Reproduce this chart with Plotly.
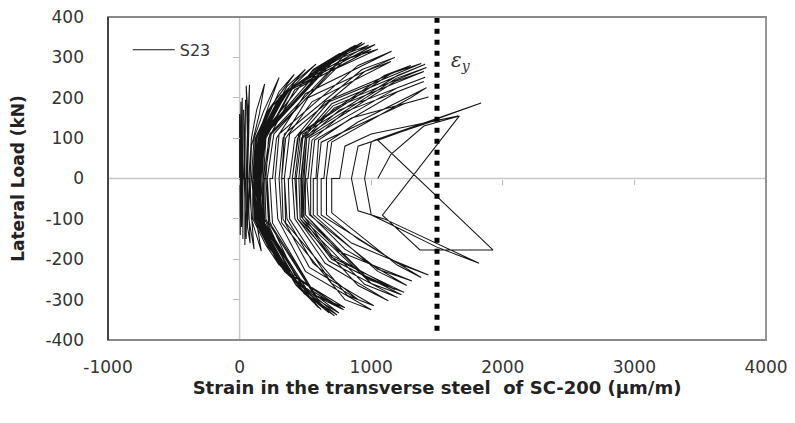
import plotly.graph_objects as go

# Hysteresis path of specimen S23: strain (µm/m) and lateral load (kN).
# Group A: early cycles near zero strain and the dense envelope band
strain_a = [0, 0, 5, 5, 10,
            5, 10, 15, 15, 20,
            15, 20, 20, 25, 25,
            30, 45, 40, 40, 45,
            35, 30, 35, 50, 55,
            50, 60, 75, 70, 60, 70, 110, 90, 70,
            55, 65, 50, 60, 60, 60, 80, 70, 75,
            70, 90, 130, 190, 150, 90, 80, 90, 165, 120, 90,
            90, 110, 180, 300, 220, 120, 100, 100, 200, 300, 200, 110, 100,
            100, 120, 220, 415, 300, 140, 110, 110, 220, 400, 250, 120, 110,
            105, 125, 235, 500, 360, 150, 115, 115, 235, 450, 290, 130, 115,
            110, 130, 250, 580, 420, 160, 120, 120, 250, 500, 330, 140, 120,
            120, 140, 300, 730, 550, 170, 130, 130, 300, 600, 420, 160, 130,
            125, 145, 310, 760, 560, 175, 135, 135, 305, 620, 430, 165, 135,
            130, 150, 330, 850, 650, 180, 140, 140, 320, 680, 480, 170, 140,
            135, 155, 340, 880, 660, 185, 145, 145, 330, 700, 490, 175, 145,
            140, 160, 350, 930, 700, 190, 150, 150, 340, 720, 520, 180, 150,
            145, 165, 360, 950, 720, 195, 155, 155, 350, 740, 530, 185, 160,
            150, 170, 370, 980, 740, 200, 160, 160, 360, 755, 540, 190, 170,
            170, 190, 390, 1030, 780, 230, 180, 190, 380, 790, 570, 220, 200,
            180, 200, 400, 1050, 800, 240, 190, 200, 390, 800, 580, 230, 210,
            200, 220, 420, 1000, 760, 260, 210, 220, 420, 760, 560, 250, 230]
load_a = [0, 160, 0, -140, 0,
          0, 190, 0, -120, 0,
          0, 200, 0, -150, 0,
          0, 195, 0, -165, 0,
          0, 170, 0, -150, 0,
          0, 120, 232, 120, 0, -100, -175, -90, 0,
          0, 150, 230, 100, 0, -120, -160, -80, 0,
          0, 100, 170, 234, 160, 80, 0, -100, -180, -90, 0,
          0, 100, 165, 250, 180, 90, 0, -100, -165, -214, -150, -80, 0,
          0, 100, 170, 258, 215, 100, 0, -100, -170, -245, -170, -90, 0,
          0, 100, 175, 270, 228, 105, 0, -100, -175, -262, -195, -95, 0,
          0, 100, 180, 283, 240, 110, 0, -100, -180, -285, -220, -100, 0,
          0, 100, 200, 303, 265, 110, 0, -100, -210, -320, -260, -110, 0,
          0, 100, 205, 310, 270, 110, 0, -100, -215, -325, -265, -110, 0,
          0, 100, 210, 325, 285, 110, 0, -100, -220, -333, -280, -110, 0,
          0, 100, 212, 330, 290, 110, 0, -100, -225, -335, -285, -110, 0,
          0, 100, 215, 337, 295, 110, 0, -100, -230, -340, -290, -110, 0,
          0, 100, 218, 335, 298, 110, 0, -100, -232, -338, -292, -110, 0,
          0, 100, 220, 330, 300, 110, 0, -100, -235, -333, -290, -110, 0,
          0, 100, 220, 332, 300, 110, 0, -100, -235, -325, -290, -110, 0,
          0, 100, 222, 320, 295, 110, 0, -100, -238, -320, -290, -110, 0,
          0, 100, 220, 320, 290, 110, 0, -100, -240, -320, -280, -110, 0]

# Group B: wider cycles with knees between 250 and 700 µm/m
strain_b = [250, 280, 500, 1155, 900, 300, 270, 290, 500, 1000, 800, 320, 300,
            300, 330, 520, 1180, 930, 340, 320, 330, 530, 1020, 820, 350, 340,
            320, 350, 550, 1150, 950, 380, 340, 360, 560, 900, 700, 380, 370,
            380, 420, 650, 1300, 1100, 450, 400, 420, 650, 1130, 900, 440, 430,
            400, 440, 680, 1380, 1150, 460, 420, 440, 680, 1200, 950, 460, 450,
            430, 470, 700, 1410, 1200, 480, 450, 460, 700, 1230, 1000, 480, 470,
            450, 480, 710, 1420, 1190, 500, 465, 470, 700, 1250, 980, 490, 480,
            470, 500, 720, 1400, 1180, 510, 480, 480, 700, 1180, 950, 500, 490,
            490, 510, 760, 1410, 1200, 530, 500, 500, 750, 1310, 1050, 530, 510,
            520, 550, 800, 1400, 1200, 570, 540, 540, 800, 1270, 1050, 560, 560,
            580, 600, 850, 1435, 1250, 620, 590, 590, 850, 1435, 1200, 620, 620,
            640, 670, 900, 1420, 1300, 700, 660, 660, 900, 1380, 1200, 700, 700]
load_b = [0, 100, 210, 315, 280, 110, 0, -100, -230, -325, -300, -110, 0,
          0, 100, 200, 300, 270, 110, 0, -100, -220, -315, -290, -110, 0,
          0, 100, 190, 290, 265, 110, 0, -100, -210, -300, -260, -100, 0,
          0, 100, 190, 280, 255, 110, 0, -100, -210, -303, -265, -100, 0,
          0, 100, 190, 285, 260, 110, 0, -100, -205, -295, -262, -100, 0,
          0, 100, 185, 283, 255, 110, 0, -100, -200, -288, -260, -100, 0,
          0, 100, 180, 275, 248, 105, 0, -95, -195, -282, -250, -95, 0,
          0, 100, 175, 265, 240, 100, 0, -90, -190, -275, -240, -90, 0,
          0, 100, 170, 251, 225, 100, 0, -90, -180, -254, -225, -90, 0,
          0, 95, 165, 240, 215, 95, 0, -90, -175, -265, -230, -90, 0,
          0, 95, 150, 202, 185, 90, 0, -90, -160, -239, -210, -90, 0,
          0, 90, 140, 225, 200, 90, 0, -90, -150, -245, -215, -85, 0]

# Group C: last cycles beyond yield
strain_c = [760, 800, 1000, 1660, 1450, 900, 850, 900, 1100, 1820, 1500, 1000, 950,
            1000, 1025, 1835, 1050, 1925, 1370, 1085, 1670, 1400, 1150, 1050]
load_c = [0, 80, 110, 155, 140, 80, 0, -80, -100, -210, -170, -90, 0,
          90, 95, 187, 95, -177, -177, -91, 155, 130, 60, 0]

x_ticks = [-1000, 0, 1000, 2000, 3000, 4000]
x_tick_text = ["-1000", "0", "1000", "2000", "3000", "4000"]
y_ticks = [-400, -300, -200, -100, 0, 100, 200, 300, 400]
y_tick_text = ["-400", "-300", "-200", "-100", "0", "100", "200", "300", "400"]
yield_strain = 1500
series_name = "S23"

strain = strain_a + strain_b + strain_c
load = load_a + load_b + load_c

FONT = "DejaVu Sans"
fig = go.Figure()
fig.add_trace(go.Scatter(x=strain, y=load, mode="lines", name=series_name,
                         line=dict(color="#151515", width=1.05)))
fig.add_trace(go.Scatter(x=[yield_strain, yield_strain], y=[398, -382], mode="lines",
                         showlegend=False, hoverinfo="skip",
                         line=dict(color="black", width=5, dash="5px,6px")))

# the page body adds an 8 px offset, so the figure is made 8 px smaller
fig.update_layout(
    width=787, height=415,
    margin=dict(l=100, r=29, t=9, b=83),
    paper_bgcolor="white", plot_bgcolor="white",
    font=dict(family=FONT, size=17, color="#333"),
    showlegend=True,
    legend=dict(x=0.03, y=0.898, xanchor="left", yanchor="middle", itemwidth=42,
                bgcolor="rgba(0,0,0,0)", font=dict(size=16, color="#333")),
    xaxis=dict(range=[-1000, 4000], tickvals=x_ticks, ticktext=x_tick_text,
               showgrid=False, zeroline=False, automargin=False,
               showline=False, ticks="", ticklabelstandoff=15, ticklabeloverflow="allow",
               tickfont=dict(size=17, color="#333"),
               title=dict(text="<b>Strain in the transverse steel  of SC-200 (µm/m)</b>",
                          font=dict(size=18, color="#222"), standoff=5)),
    yaxis=dict(range=[-400, 400], tickvals=y_ticks, ticktext=y_tick_text,
               showgrid=False, zeroline=False, automargin=False,
               showline=False, ticks="", ticklabelstandoff=23, ticklabeloverflow="allow",
               tickfont=dict(size=17, color="#333"),
               title=dict(text="<b>Lateral Load (kN)</b>",
                          font=dict(size=17, color="#222"), standoff=20)),
    # secondary axes drawn through the origin, as in the original chart
    xaxis2=dict(overlaying="x", matches="x", anchor="free", position=0.5,
                showline=False, showticklabels=False, showgrid=False, zeroline=False,
                automargin=False, tickvals=x_ticks, ticks="outside", ticklen=5,
                tickcolor="#bbb"),
    yaxis2=dict(overlaying="y", matches="y", anchor="free", position=0.2,
                showline=False, showticklabels=False, showgrid=False, zeroline=False,
                automargin=False, tickvals=y_ticks, ticks="outside", ticklen=7,
                tickcolor="#bbb"),
)
# axis lines through zero
fig.add_shape(type="line", xref="x", yref="y", x0=-1000, x1=4000, y0=0, y1=0,
              line=dict(color="#c8c8c8", width=1.5), layer="below")
fig.add_shape(type="line", xref="x", yref="y", x0=0, x1=0, y0=-400, y1=400,
              line=dict(color="#c8c8c8", width=1.5), layer="below")
# plot frame
fig.add_shape(type="rect", xref="paper", yref="paper", x0=0, x1=1, y0=0, y1=1,
              line=dict(color="#8a8a8a", width=1.8))
fig.add_shape(type="line", xref="paper", yref="paper", x0=0, x1=0, y0=0, y1=1,
              line=dict(color="#444", width=2))
fig.add_annotation(x=1680, y=290, xref="x", yref="y", showarrow=False,
                   text="<i>ε<sub>y</sub></i>",
                   font=dict(family="DejaVu Serif", size=20, color="#333"))
# invisible trace so the origin axes render
fig.add_trace(go.Scatter(x=[0], y=[0], xaxis="x2", yaxis="y2", mode="markers",
                         marker=dict(opacity=0), showlegend=False, hoverinfo="skip"))

fig.write_html("out.html")
